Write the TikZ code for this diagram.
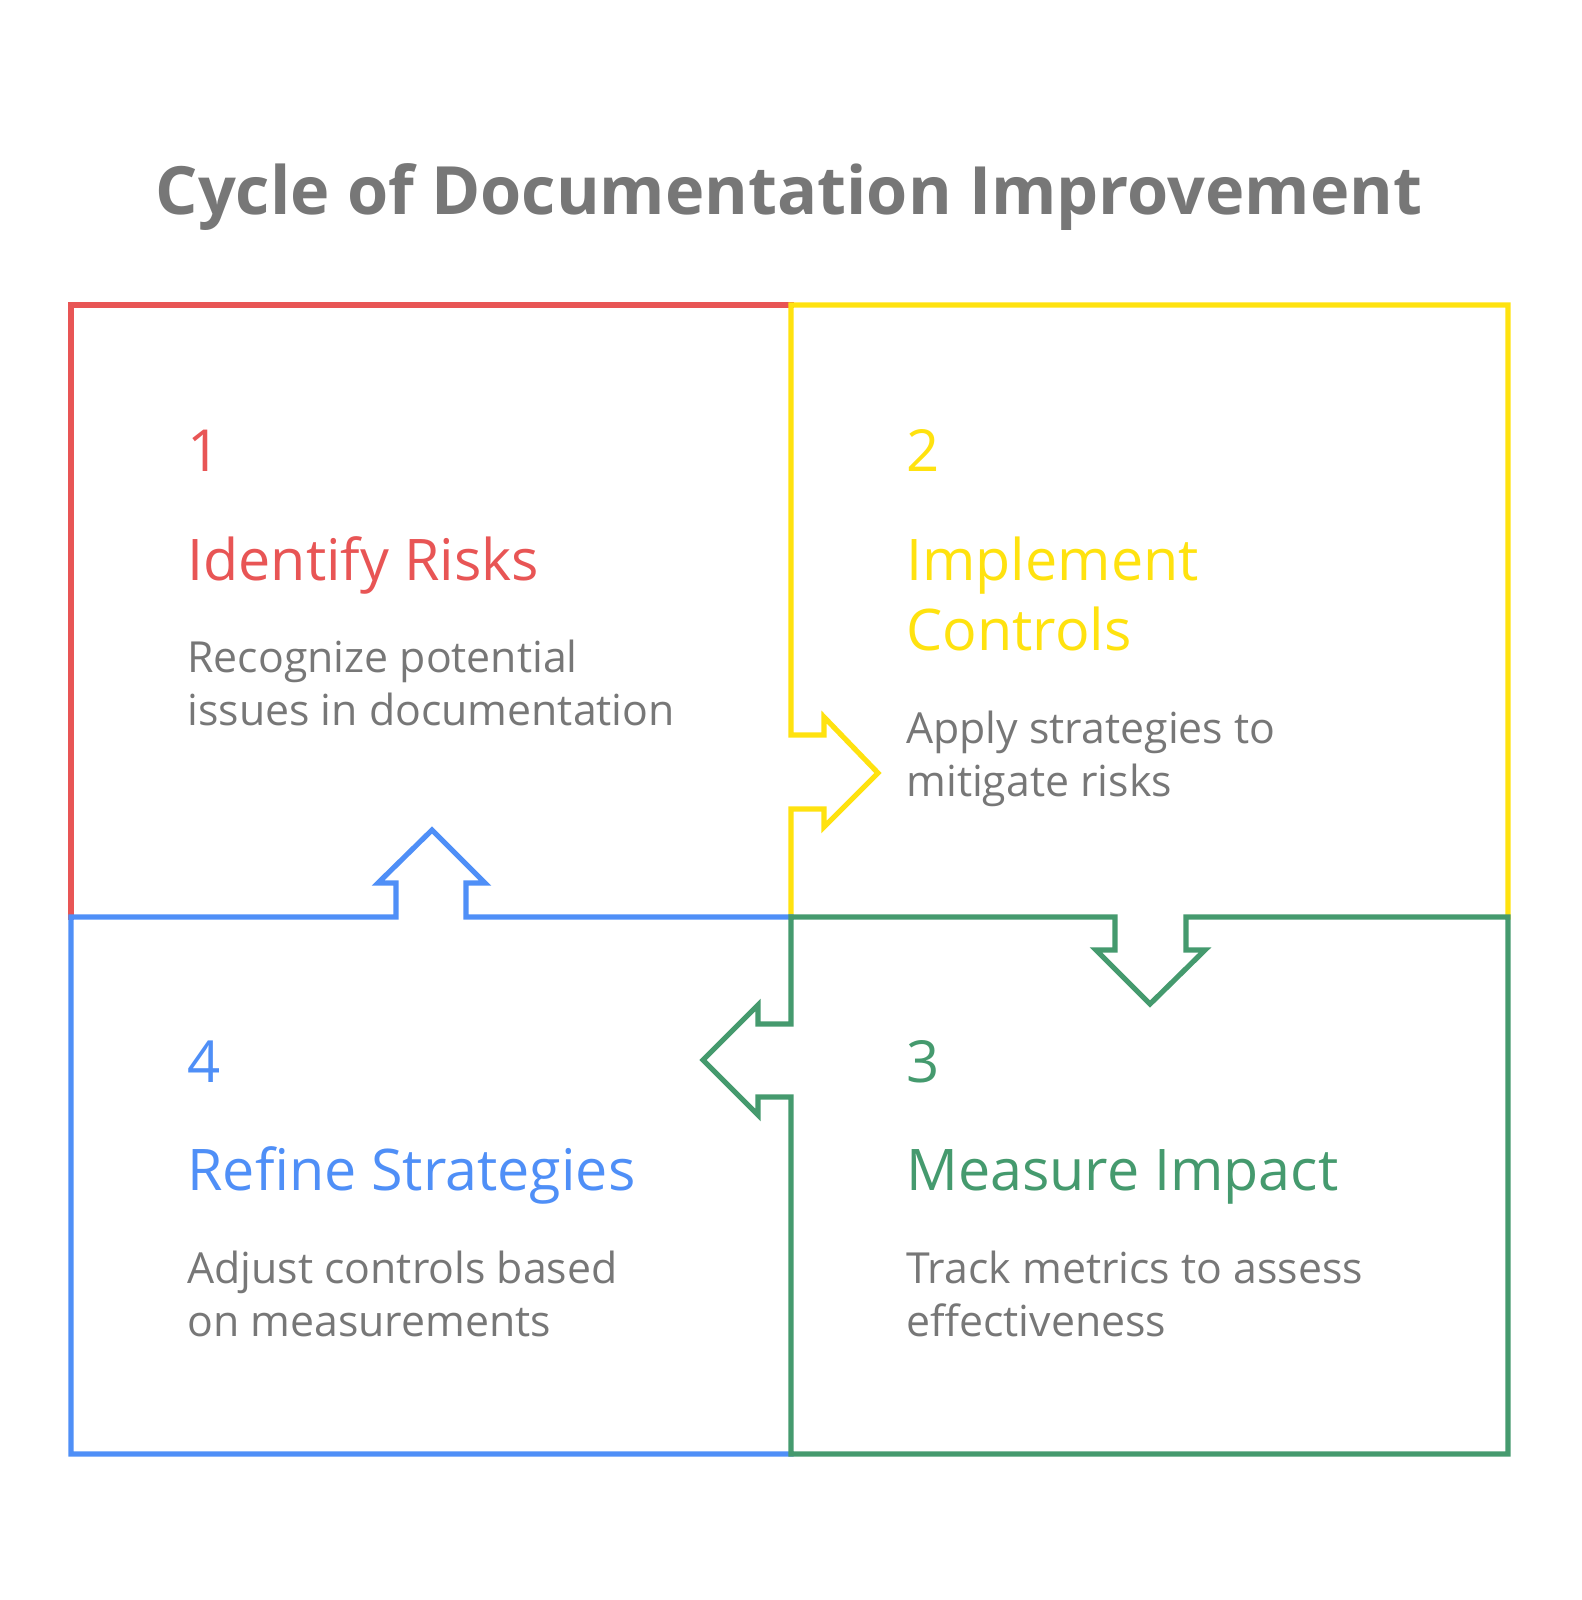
\documentclass[tikz,border=0pt]{standalone}
\usepackage{fontspec}
\setmainfont{Open Sans}
\definecolor{cred}{HTML}{E85555}
\definecolor{cyel}{HTML}{FFE20F}
\definecolor{cgrn}{HTML}{459A6E}
\definecolor{cblu}{HTML}{4F8FF7}
\definecolor{cgry}{HTML}{777777}
\begin{document}
\begin{tikzpicture}[x=0.5pt,y=-0.5pt,
  edge/.style={line width=2.6pt,line join=miter,line cap=rect},
  num/.style={anchor=base west,inner sep=0pt,font=\fontsize{29}{34}\selectfont},
  head/.style={anchor=base west,inner sep=0pt,font=\fontsize{28.7}{34}\selectfont},
  desc/.style={anchor=base west,inner sep=0pt,text=cgry,font=\fontsize{21.4}{26}\selectfont}]
\useasboundingbox (0,0) rectangle (1582,1600);
\node[anchor=base,inner sep=0pt,text=cgry,font=\bfseries\fontsize{33.3}{40}\selectfont] (title) at (789,214) {Cycle of Documentation Improvement};
% red
\draw[edge,cred] (71,917) -- (71,305) -- (791,305);
% yellow
\draw[edge,cyel] (791,917) -- (791,809) -- (824,809) -- (824,827) -- (878,773) -- (824,717) -- (824,735) -- (791,735) -- (791,305) -- (1508,305) -- (1508,917);
% blue
\draw[edge,cblu] (791,1454) -- (71,1454) -- (71,917) -- (396,917) -- (396,883) -- (378,883) -- (432,830) -- (485,883) -- (466,883) -- (466,917) -- (791,917);
% green
\draw[edge,cgrn] (791,917) -- (1115,917) -- (1115,950) -- (1096,950) -- (1150,1004) -- (1205,950) -- (1186,950) -- (1186,917) -- (1508,917) -- (1508,1454) -- (791,1454) -- (791,1097) -- (758,1097) -- (758,1115) -- (703,1060) -- (758,1005) -- (758,1024) -- (791,1024) -- cycle;
% texts
\node[num,text=cred] (n1) at (187,471) {1};
\node[head,text=cred] (h1) at (187,580) {Identify Risks};
\node[desc] (d1a) at (187,672) {Recognize potential};
\node[desc] (d1b) at (187,725) {issues in documentation};
\node[num,text=cyel] (n2) at (906,471) {2};
\node[head,text=cyel] (h2a) at (906,580) {Implement};
\node[head,text=cyel] (h2b) at (906,650) {Controls};
\node[desc] (d2a) at (906,743) {Apply strategies to};
\node[desc] (d2b) at (906,796) {mitigate risks};
\node[num,text=cgrn] (n3) at (906,1082) {3};
\node[head,text=cgrn] (h3) at (906,1190) {Measure Impact};
\node[desc] (d3a) at (906,1283) {Track metrics to assess};
\node[desc] (d3b) at (906,1336) {effectiveness};
\node[num,text=cblu] (n4) at (187,1082) {4};
\node[head,text=cblu] (h4) at (187,1190) {Refine Strategies};
\node[desc] (d4a) at (187,1283) {Adjust controls based};
\node[desc] (d4b) at (187,1336) {on measurements};
\end{tikzpicture}
\end{document}
